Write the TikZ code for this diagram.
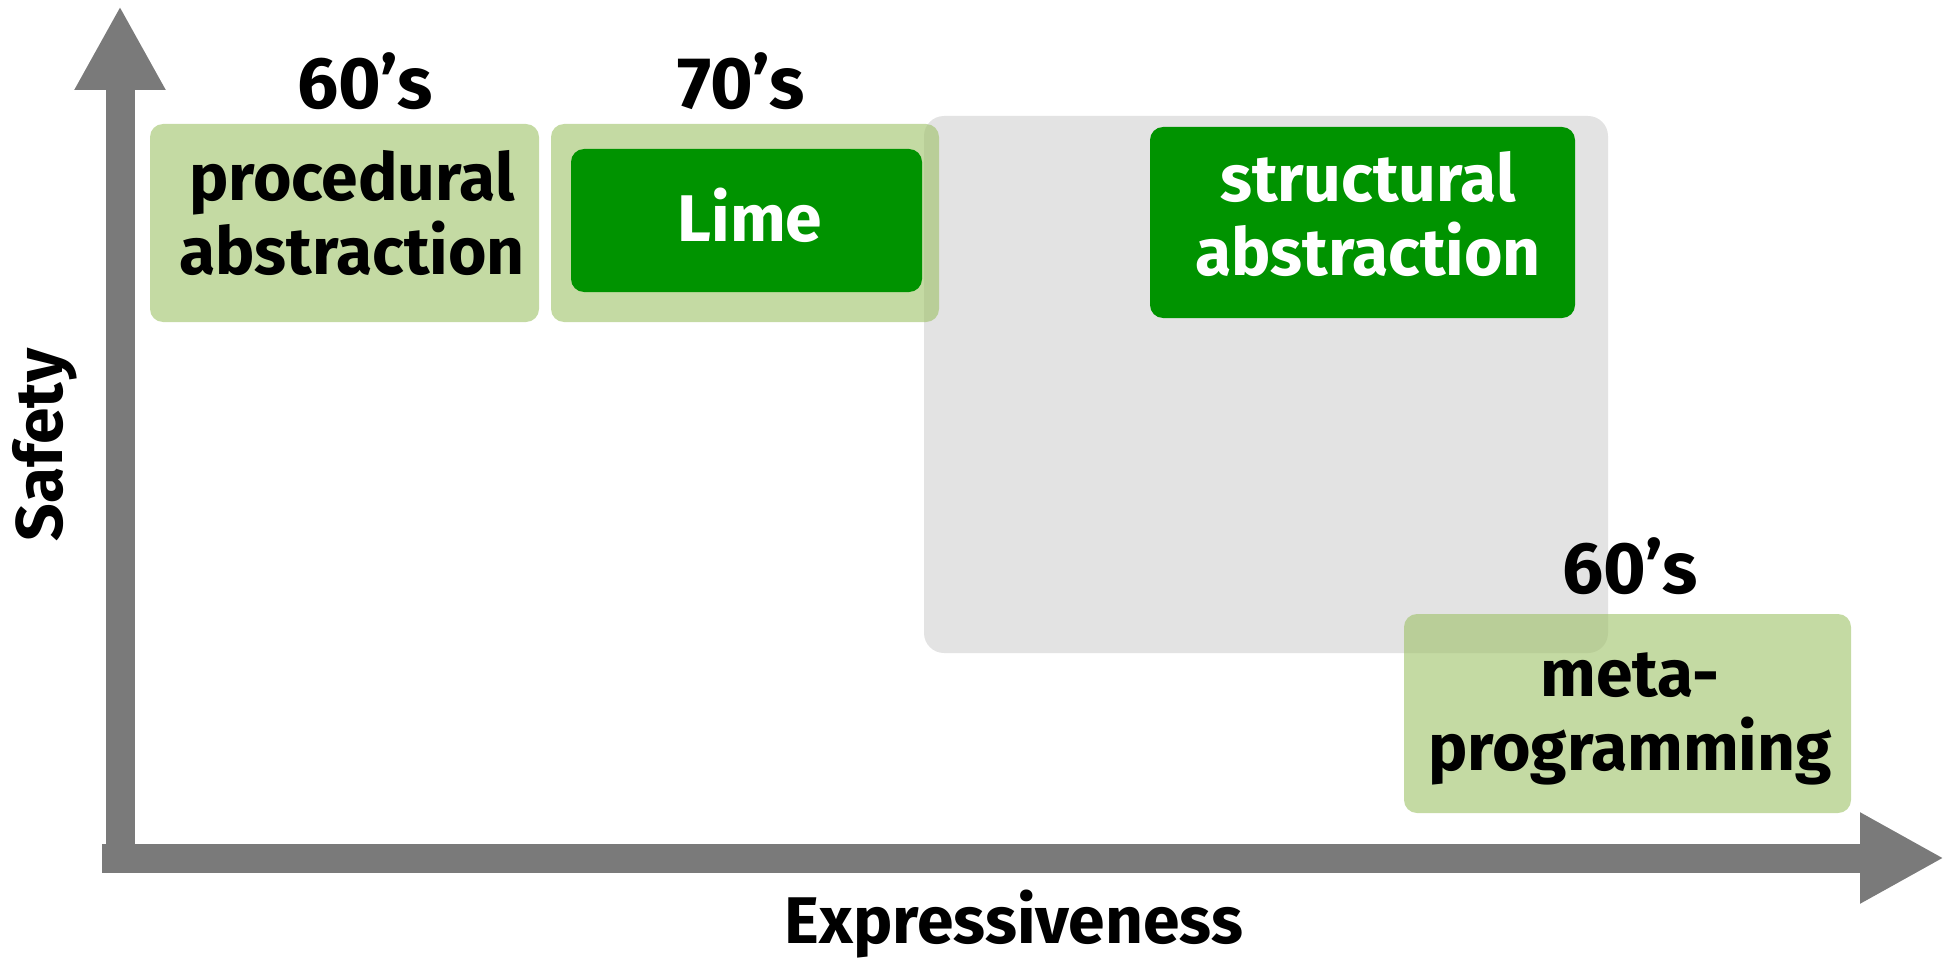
\documentclass[tikz,border=0pt]{standalone}
\usepackage{fontspec}
\setmainfont{Fira Sans}
\usetikzlibrary{arrows.meta}
\definecolor{axisgrey}{RGB}{122,122,122}
\definecolor{palegreen}{RGB}{157,193,102}
\definecolor{deepgreen}{RGB}{0,147,0}
\definecolor{zonegrey}{RGB}{227,227,227}
\begin{document}
\begin{tikzpicture}[x=1pt,y=-1pt,
  lbl/.style={font=\fontsize{66}{74}\selectfont\bfseries, inner sep=0pt, align=center, anchor=base},
  decade/.style={lbl, font=\fontsize{73}{80}\selectfont\bfseries},
  palebox/.style={fill=palegreen, fill opacity=0.6, rounded corners=13pt, inner sep=0pt},
  darkbox/.style={fill=deepgreen, rounded corners=13pt, inner sep=0pt},
  zonebox/.style={fill=zonegrey, rounded corners=20pt, inner sep=0pt},
  axis/.style={draw=axisgrey, line width=29pt, line cap=butt,
    -{Triangle[length=84pt,width=85pt]}}]
\useasboundingbox (0,0) rectangle (1958,960);

% shaded zone of later languages
\node[zonebox, minimum width=684pt, minimum height=537pt] (zone) at (1266,384.5) {};

% era boxes
\node[palebox, minimum width=389pt, minimum height=198pt] (proc) at (344.5,223) {};
\node[palebox, minimum width=388pt, minimum height=198pt] (limeback) at (745,223) {};
\node[palebox, minimum width=447pt, minimum height=199pt] (meta) at (1627.5,713.5) {};
\node[darkbox, minimum width=351pt, minimum height=143pt] (lime) at (746.5,220.5) {};
\node[darkbox, minimum width=425pt, minimum height=191pt] (struct) at (1362.5,222.5) {};

% box texts (anchored on the baseline of their last line)
\node[lbl] (proctext) at (352,274) {procedural\\abstraction};
\node[lbl, text=white] (limetext) at (750,241) {Lime};
\node[lbl, text=white] (structtext) at (1368,275) {structural\\abstraction};
\node[lbl] (metatext) at (1630,770) {meta-\\programming};

% decades
\node[decade] (dec1) at (365,109) {60’s};
\node[decade] (dec2) at (741,109) {70’s};
\node[decade] (dec3) at (1630,593) {60’s};

% axes
\coordinate (origin) at (120,873);
\coordinate (xstart) at (102,858);
\coordinate (ytip) at (120,6);
\coordinate (xtip) at (1944,858);
\draw[axis] (origin) -- (ytip);
\draw[axis] (xstart) -- (xtip);

\node[lbl, rotate=90] (safety) at (62,445) {Safety};
\node[lbl] (expr) at (1014,943) {Expressiveness};
\end{tikzpicture}
\end{document}
